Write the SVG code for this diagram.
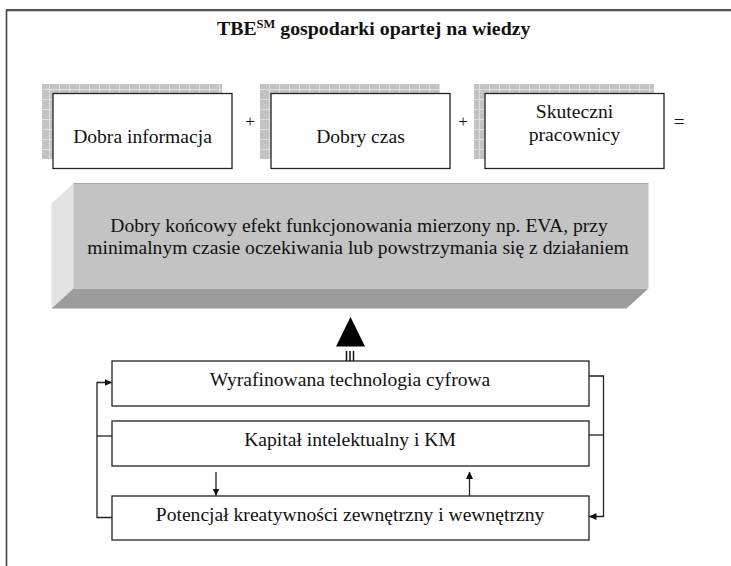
<svg xmlns="http://www.w3.org/2000/svg" width="731" height="566" viewBox="0 0 731 566">
<style>
text{font-family:"Liberation Serif","Times New Roman","DejaVu Serif",serif;fill:#111;}
.m{text-anchor:middle;font-size:19.6px;}
.box{fill:#fff;stroke:#222;stroke-width:1.3;}
.sh{fill:url(#hatch);}
.ln{fill:none;stroke:#222;stroke-width:1.3;}
</style>
<defs>
<pattern id="hatch" x="0" y="0" width="10" height="10" patternUnits="userSpaceOnUse">
<rect width="10" height="10" fill="#c2c2c2"/>
<rect x="0" y="0" width="1" height="1" fill="#d4d4d4"/>
<rect x="2" y="2" width="1" height="1" fill="#d4d4d4"/>
<rect x="4" y="4" width="1" height="1" fill="#d4d4d4"/>
<rect x="6" y="6" width="1" height="1" fill="#d4d4d4"/>
<rect x="9" y="0" width="1" height="10" fill="#e0e0e0"/>
<rect x="0" y="9" width="10" height="1" fill="#e0e0e0"/>
</pattern>
<marker id="ah" markerWidth="8" markerHeight="8" refX="7" refY="4" orient="auto" markerUnits="userSpaceOnUse">
<path d="M0,0.5 L7.5,4 L0,7.5 Z" fill="#111"/>
</marker>
</defs>
<rect width="731" height="566" fill="#fff"/>
<g id="frame">
<line x1="6" y1="10" x2="731" y2="10" stroke="#111" stroke-width="1.6"/>
<line x1="6" y1="11.3" x2="731" y2="11.3" stroke="#aaa" stroke-width="0.8"/>
<line x1="6.5" y1="9.5" x2="6.5" y2="566" stroke="#444" stroke-width="1.6"/>
</g>
<g id="title">
<text x="217" y="35" font-size="19.8" font-weight="bold">TBE<tspan font-size="12.5" dy="-7.5">SM</tspan><tspan dy="7.5"> gospodarki opartej na wiedzy</tspan></text>
</g>
<g id="n-info">
<rect class="sh" x="42" y="84" width="180" height="75"/>
<rect class="box" x="53" y="93.5" width="179" height="75"/>
<text class="m" x="142.5" y="143">Dobra informacja</text>
</g>
<g id="n-czas">
<rect class="sh" x="260" y="84" width="180" height="75"/>
<rect class="box" x="271" y="93.5" width="179" height="75"/>
<text class="m" x="360.5" y="143">Dobry czas</text>
</g>
<g id="n-prac">
<rect class="sh" x="474" y="84" width="180" height="75"/>
<rect class="box" x="485" y="93.5" width="179" height="75"/>
<text class="m" x="574.5" y="118">Skuteczni</text>
<text class="m" x="574.5" y="141">pracownicy</text>
</g>
<g id="ops">
<text x="250" y="127" font-size="17" text-anchor="middle" fill="#444">+</text>
<text x="463" y="127" font-size="17" text-anchor="middle" fill="#444">+</text>
<text x="679" y="127.5" font-size="19" text-anchor="middle" fill="#444">=</text>
</g>
<g id="n-efekt">
<polygon points="73.5,183.5 51.5,203.5 51.5,308.5 73.5,288.5" fill="#e3e3e3"/>
<polygon points="73.5,288.5 648.5,288.5 626.5,308.5 51.5,308.5" fill="#9c9c9c"/>
<rect x="73.5" y="183.5" width="575" height="105" fill="#c3c3c3"/>
<line x1="73.5" y1="183.5" x2="648.5" y2="183.5" stroke="#ababab" stroke-width="1"/>
<text class="m" x="359" y="232">Dobry końcowy efekt funkcjonowania mierzony np. EVA, przy</text>
<text class="m" x="358" y="254">minimalnym czasie oczekiwania lub powstrzymania się z działaniem</text>
</g>
<g id="n-tech">
<rect class="box" x="112" y="361" width="477" height="45"/>
<text class="m" x="350" y="385.5">Wyrafinowana technologia cyfrowa</text>
</g>
<g id="n-kapital">
<rect class="box" x="112" y="421" width="477" height="45"/>
<text class="m" x="350" y="445.5">Kapitał intelektualny i KM</text>
</g>
<g id="n-potencjal">
<rect class="box" x="112" y="496" width="477" height="44"/>
<text class="m" x="350" y="520.5">Potencjał kreatywności zewnętrzny i wewnętrzny</text>
</g>
<g id="connectors">
<polygon points="350.5,317 336,346.5 365,346.5" fill="#000"/>
<line x1="346.5" y1="351" x2="346.5" y2="361" stroke="#111" stroke-width="1.5"/>
<line x1="350" y1="351" x2="350" y2="361" stroke="#111" stroke-width="1.5"/>
<line x1="353.5" y1="351" x2="353.5" y2="361" stroke="#111" stroke-width="1.5"/>
<path class="ln" d="M112,517.5 H97 V382.5 H111.5" marker-end="url(#ah)"/>
<path class="ln" d="M112,436 H97"/>
<path class="ln" d="M589,376 H603.5 V516.5 H589.5" marker-end="url(#ah)"/>
<path class="ln" d="M589,435 H603.5"/>
<path class="ln" d="M216,472 V495.5" marker-end="url(#ah)"/>
<path class="ln" d="M469.5,496 V472" marker-end="url(#ah)"/>
</g>
</svg>
